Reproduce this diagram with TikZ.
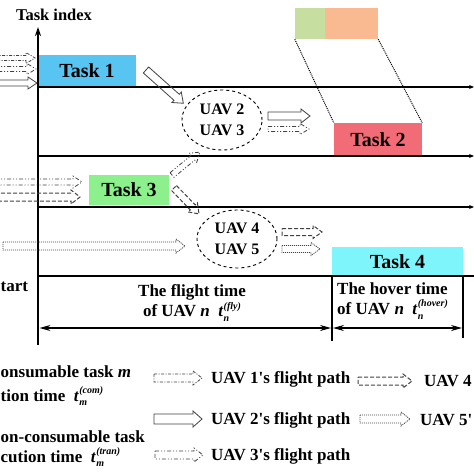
\documentclass[tikz,border=0pt]{standalone}
\usepackage{fontspec}
\setmainfont{Liberation Serif}[Ligatures=TeXOff]
\usetikzlibrary{arrows.meta,shapes.geometric}
\definecolor{cTaskA}{RGB}{88,196,242}
\definecolor{cTaskB}{RGB}{242,108,120}
\definecolor{cTaskC}{RGB}{140,240,140}
\definecolor{cTaskD}{RGB}{125,245,250}
\definecolor{cLegG}{RGB}{198,222,160}
\definecolor{cLegO}{RGB}{250,186,145}
\newcommand{\tvar}[2]{\textit{t}\kern0.3pt\rlap{\raisebox{-0.55ex}{\fontsize{10}{10}\selectfont\textit{#1}}}\raisebox{1.0ex}{\fontsize{10}{10}\selectfont\textit{#2}}}
\newcommand{\harrow}[6][]{%
  \draw[flow,#1,shift={(#2,#3)},rotate=#4] (0,-#6) -- ({#5-9},-#6) -- ({#5-9},{-#6-3}) -- (#5,0) -- ({#5-9},{#6+3}) -- ({#5-9},#6) -- (0,#6) -- cycle;}
\tikzset{
  lbl/.style={font=\fontsize{17}{20}\selectfont\bfseries, inner sep=0pt},
  taskbox/.style={font=\fontsize{20}{24}\selectfont\bfseries, inner sep=0pt},
  axisline/.style={line width=1.4pt, draw=black},
  flow/.style={draw=black!75, line width=0.8pt, line join=miter},
  uavA/.style={dash pattern=on 3pt off 1.5pt on 1pt off 1.5pt},
  uavB/.style={solid},
  uavC/.style={dash pattern=on 4pt off 2pt on 1pt off 2pt on 1pt off 2pt},
  uavD/.style={dash pattern=on 4pt off 2pt, line width=1pt},
  uavE/.style={dash pattern=on 1pt off 1pt},
  uavell/.style={ellipse, draw, dashed, line width=0.9pt, minimum width=80pt, minimum height=60pt, inner sep=0pt, align=center, font=\fontsize{16}{21}\selectfont\bfseries}
}
\begin{document}
\begin{tikzpicture}[x=1pt,y=-1pt]
\useasboundingbox (0,0) rectangle (474,474);
% title
\node[lbl, font=\fontsize{16.5}{20}\selectfont\bfseries] (title) at (54,15) {Task index};
% legend colour boxes at top
\node[fill=cLegG, minimum width=30pt, minimum height=31pt, inner sep=0pt] (legG) at (310,23.5) {};
\node[fill=cLegO, minimum width=53pt, minimum height=31pt, inner sep=0pt] (legO) at (351.5,23.5) {};
% task boxes
\node[taskbox, fill=cTaskA, minimum width=98pt, minimum height=32pt] (t1) at (87,71) {Task 1};
\node[taskbox, fill=cTaskB, minimum width=88pt, minimum height=33pt] (t2) at (378,139.5) {Task 2};
\node[taskbox, fill=cTaskC, minimum width=80pt, minimum height=30pt] (t3) at (129,190) {Task 3};
\node[taskbox, fill=cTaskD, minimum width=131pt, minimum height=29pt] (t4) at (397.5,261.5) {Task 4};
% dotted projection lines
\draw[line width=1pt, densely dotted] (legG.south west) -- (t2.north west);
\draw[line width=1pt, densely dotted] (legO.south east) -- (t2.north east);
% axis and horizontal lines
\coordinate (ax0) at (38,345);
\coordinate (axT) at (38,27);
\draw[axisline, -{Stealth[length=9pt,width=6pt]}] (ax0) -- (axT);
\foreach \yy/\nm in {87/a,156/b,207/c}{
  \coordinate (hl\nm) at (38,\yy);
  \coordinate (hr\nm) at (474,\yy);
  \draw[axisline, -{Stealth[length=5pt,width=4pt]}] (hl\nm) -- (hr\nm);
}
\coordinate (hld) at (38,276);
\coordinate (hrd) at (474,276);
\draw[axisline] (hld) -- (hrd);
% bottom time spans
\coordinate (v1t) at (332,276); \coordinate (v1b) at (332,341);
\coordinate (v2t) at (463,276); \coordinate (v2b) at (463,338);
\draw[axisline] (v1t) -- (v1b);
\draw[axisline] (v2t) -- (v2b);
\coordinate (s1a) at (39.5,328); \coordinate (s1b) at (331,328);
\coordinate (s2a) at (333,328); \coordinate (s2b) at (462,328);
\draw[line width=1.2pt, {Stealth[length=11pt,width=6pt]}-{Stealth[length=11pt,width=6pt]}] (s1a) -- (s1b);
\draw[line width=1.2pt, {Stealth[length=11pt,width=6pt]}-{Stealth[length=11pt,width=6pt]}] (s2a) -- (s2b);
\node[lbl, align=center] (fly) at (192,303) {The flight time\\of UAV \textit{n}\enspace\tvar{n}{(fly)}};
\node[lbl, align=left, anchor=west] (hover) at (337,301) {The hover time\\of UAV \textit{n}\enspace\tvar{n}{(hover)}};
\node[lbl, anchor=west] (start) at (0.5,287) {tart};
% UAV ellipses
\node[uavell] (e1) at (222,120) {UAV 2\\UAV 3};
\node[uavell, minimum height=58pt] (e2) at (237,239) {UAV 4\\UAV 5};
% flight path arrows in the chart
\harrow[uavA]{-5}{58}{0}{40}{2.5}
\harrow[uavC]{-5}{69}{0}{41}{2.5}
\harrow[uavB]{-5}{83}{0}{42}{3}
\harrow[uavB]{146}{70}{-41.7}{50}{4}
\harrow[uavB]{268}{116}{0}{42}{4}
\harrow[uavC]{268}{129}{0}{41}{2.5}
\harrow[uavC]{-5}{182}{0}{87}{3}
\harrow[uavD]{-5}{197}{0}{85}{4}
\harrow[uavC]{172}{175}{39.4}{36}{3}
\harrow[uavD]{174}{188}{-46}{36}{3.5}
\harrow[uavE]{3}{246}{0}{182}{4}
\harrow[uavD]{282}{232}{0}{40}{3.5}
\harrow[uavE]{282}{249}{0}{38}{3.5}
% legend (left part of the legend texts)
\node[lbl, anchor=west] (lc1) at (0.5,372) {onsumable task \textit{m}};
\node[lbl, anchor=west] (lc2) at (0.5,396) {tion time\enspace\tvar{m}{(com)}};
\node[lbl, anchor=west] (ln1) at (0.5,437) {on-consumable task};
\node[lbl, anchor=west] (ln2) at (0.5,457) {cution time\enspace\tvar{m}{(tran)}};
% legend arrows
\harrow[uavA]{154}{378}{0}{48}{4}
\harrow[uavB]{154}{419}{0}{48}{5}
\harrow[uavC]{155}{455}{0}{48}{4}
\harrow[uavD]{358}{381}{0}{54}{4}
\harrow[uavE]{360}{419}{0}{50}{4}
\node[lbl, anchor=west] (l1) at (211,379) {UAV 1's flight path};
\node[lbl, anchor=west] (l2) at (211,420) {UAV 2's flight path};
\node[lbl, anchor=west] (l3) at (211,456) {UAV 3's flight path};
\node[lbl, anchor=west] (l4) at (424,381) {UAV 4};
\node[lbl, anchor=west] (l5) at (420,420) {UAV 5'};
\end{tikzpicture}
\end{document}
